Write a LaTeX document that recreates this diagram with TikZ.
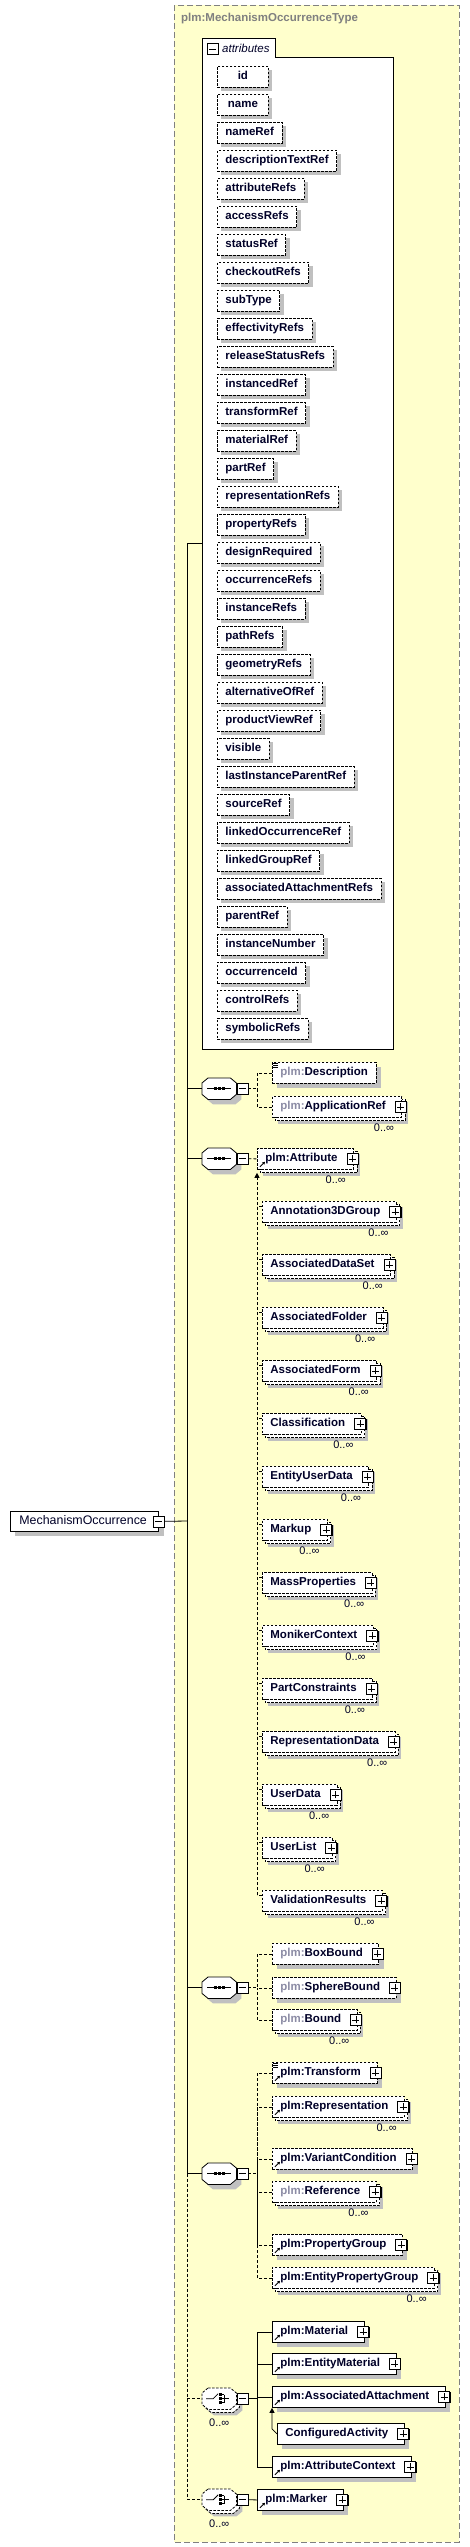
\documentclass[tikz,border=0pt]{standalone}
\usepackage{fontspec}
\setmainfont{Liberation Sans}
\usetikzlibrary{shadows,arrows.meta}

\definecolor{typefill}{HTML}{FFFFCC}
\definecolor{shadowgray}{RGB}{192,192,192}
\definecolor{framegray}{RGB}{128,128,128}
\definecolor{nsgray}{RGB}{140,140,165}
\definecolor{eltext}{RGB}{0,0,40}

\pgfdeclarelayer{bg}
\pgfdeclarelayer{back}
\pgfsetlayers{bg,back,main}

\newcommand{\elfont}{\fontsize{11.5}{13}\selectfont\bfseries}
\newcommand{\nsp}{\textcolor{nsgray}{plm:}}
\newcommand{\pad}{\rule{8pt}{0pt}}

\tikzset{
  line/.style={line width=0.8pt},
  conn/.style={line width=0.8pt,dash pattern=on 3pt off 2pt},
  opt/.style={dash pattern=on 2.5pt off 1.5pt},
  shad/.style={drop shadow={shadow xshift=5pt,shadow yshift=-5pt,fill=shadowgray,opacity=1}},
  attr/.style={draw,opt,fill=white,anchor=north west,font=\elfont,text=eltext,line width=0.8pt,
    minimum width=51pt,minimum height=21pt,inner xsep=8pt,inner ysep=0pt,text height=8.5pt,text depth=2.5pt,
    drop shadow={shadow xshift=4pt,shadow yshift=-4pt,fill=shadowgray,opacity=1}},
  elem/.style={draw,fill=white,anchor=north west,font=\elfont,text=eltext,line width=0.8pt,
    minimum height=21pt,inner xsep=8pt,inner ysep=0pt,text height=8.5pt,text depth=2.5pt},
  comp/.style={anchor=north west,minimum width=34pt,minimum height=21pt,inner sep=0pt},
  pmbox/.style={draw,fill=white,line width=0.8pt,minimum size=11pt,inner sep=0pt,
    drop shadow={shadow xshift=1pt,shadow yshift=-1pt,fill=black,opacity=1}},
  plusbox/.style={pmbox,path picture={\draw[line width=0.8pt]
    ([xshift=-3.5pt]path picture bounding box.center) -- ([xshift=3.5pt]path picture bounding box.center)
    ([yshift=-3.5pt]path picture bounding box.center) -- ([yshift=3.5pt]path picture bounding box.center);}},
  minusbox/.style={pmbox,path picture={\draw[line width=0.8pt]
    ([xshift=-3.5pt]path picture bounding box.center) -- ([xshift=3.5pt]path picture bounding box.center);}},
  mult/.style={font=\fontsize{11}{12}\selectfont,text=eltext,inner sep=0pt}
}

% second box behind repeated elements
\newcommand{\backcopy}[1]{%
  \begin{pgfonlayer}{back}
    \fill[shadowgray,transform canvas={xshift=6pt,yshift=-6pt}] (#1.north west) rectangle (#1.south east);
    \draw[opt,fill=white,line width=0.8pt,transform canvas={xshift=3pt,yshift=-3pt}] (#1.north west) rectangle (#1.south east);
  \end{pgfonlayer}}
\newcommand{\plusat}[1]{\node[plusbox] (#1-x) at ([xshift=-1.5pt]#1.east) {};}
\newcommand{\occurs}[1]{\node[mult,anchor=north east] (#1-l) at ([xshift=-8pt,yshift=-6pt]#1.south east) {0..∞};}
\newcommand{\refmark}[1]{\draw[line width=0.9pt,-{Triangle[length=2.5pt,width=3pt]}] ([shift={(3,-3)}]#1.south west) -- ++(5,-5);}
\newcommand{\simplemark}[1]{\foreach \k in {1,3,5} \draw[line width=0.6pt] ([shift={(1,\k)}]#1.north west) -- ++(5,0);}
\newcommand{\octagon}[2]{\draw[#1] ([xshift=6pt]#2.north west) -- ([xshift=-6pt]#2.north east) -- ([yshift=-5pt]#2.north east)
  -- ([yshift=5pt]#2.south east) -- ([xshift=-6pt]#2.south east) -- ([xshift=6pt]#2.south west)
  -- ([yshift=5pt]#2.south west) -- ([yshift=-5pt]#2.north west) -- cycle;}
\newcommand{\seqicon}[1]{%
  \draw[line width=0.8pt] ([xshift=-12pt]#1.center) -- ([xshift=12pt]#1.center);
  \foreach \k in {-4,0,4} \fill ([xshift=\k pt]#1.center) +(-1.5,-1.5) rectangle +(1.5,1.5);}
\newcommand{\choiceicon}[1]{%
  \draw[line width=0.8pt] ([xshift=-13pt]#1.center) -- ([xshift=-6pt]#1.center) -- ([shift={(-1,-5)}]#1.center);
  \foreach \k in {-4,0,4} \fill ([shift={(1,\k)}]#1.center) +(-1.5,-1.5) rectangle +(1.5,1.5);
  \draw[line width=0.8pt] ([shift={(5,-4)}]#1.center) -- ([shift={(5,4)}]#1.center)
    ([shift={(3,-4)}]#1.center) -- ++(2,0) ([shift={(3,4)}]#1.center) -- ++(2,0)
    ([xshift=3pt]#1.center) -- ([xshift=10pt]#1.center);}

\begin{document}
\begin{tikzpicture}[x=1pt,y=-1pt]
\useasboundingbox (0,0) rectangle (470,2547);
\begin{pgfonlayer}{bg}
  \fill[white] (0,0) rectangle (470,2547);
  \draw[framegray,line width=0.8pt,dash pattern=on 6pt off 3pt,fill=typefill] (174,5) rectangle (459,2542);
\end{pgfonlayer}
\node[anchor=west,font=\elfont,text=framegray,inner sep=0pt] (typename) at (181,19) {plm:MechanismOccurrenceType};

% attributes
\node[comp,minimum width=191pt,minimum height=1011pt] (attrs) at (202,38) {};
\draw[line,fill=white] (attrs.south west) -- (attrs.north west) -- ++(73,0) -- ++(0,19) -| (attrs.south east) -- cycle;
\node[minusbox] (attrs-x) at (212.5,49) {};
\node[anchor=west,font=\fontsize{11.5}{13}\selectfont\itshape,text=eltext,inner sep=0pt] (attrs-l) at (222,48) {attributes};
\foreach \a [count=\i from 0] in {id,name,nameRef,descriptionTextRef,attributeRefs,accessRefs,statusRef,
  checkoutRefs,subType,effectivityRefs,releaseStatusRefs,instancedRef,transformRef,materialRef,partRef,
  representationRefs,propertyRefs,designRequired,occurrenceRefs,instanceRefs,pathRefs,geometryRefs,
  alternativeOfRef,productViewRef,visible,lastInstanceParentRef,sourceRef,linkedOccurrenceRef,
  linkedGroupRef,associatedAttachmentRefs,parentRef,instanceNumber,occurrenceId,controlRefs,symbolicRefs}
  \node[attr] (at\i) at (217,{66+28*\i}) {\a};

% compositors
\foreach \n/\y in {seq1/1078,seq2/1148,seq3/1977,seq4/2163}{
  \node[comp] (\n) at (202,\y) {};
  \octagon{draw=none,fill=shadowgray,transform canvas={xshift=5pt,yshift=-5pt}}{\n}
  \octagon{line,fill=white}{\n}
  \seqicon{\n}
  \node[minusbox] (\n-x) at ([xshift=6pt]\n.east) {};
}
\foreach \n/\y in {ch1/2388,ch2/2489}{
  \node[comp] (\n) at (202,\y) {};
  \octagon{draw=none,fill=shadowgray,transform canvas={xshift=6pt,yshift=-6pt}}{\n}
  \octagon{line,opt,fill=white,transform canvas={xshift=3pt,yshift=-3pt}}{\n}
  \octagon{line,opt,fill=white}{\n}
  \choiceicon{\n}
  \node[minusbox] (\n-x) at ([xshift=6pt]\n.east) {};
  \node[mult] (\n-l) at ([yshift=-13pt]\n.south) {0..∞};
}

% main element and trunk
\node[elem,shad,font=\fontsize{12.4}{14}\selectfont,inner xsep=9pt,minimum height=20pt] (mo) at (10,1511) {MechanismOccurrence\rule{3pt}{0pt}};
\coordinate (trunk) at (187,1521);
\draw[line] (mo.east) -- (trunk);
\node[minusbox] (mo-x) at ([xshift=-0.5pt]mo.east) {};
\draw[line] (attrs.west -| trunk) -- (seq4.west -| trunk);
\draw[conn] (seq4.west -| trunk) -- (ch2.west -| trunk);
\foreach \n in {attrs,seq1,seq2,seq3,seq4} \draw[line] (\n.west -| trunk) -- (\n.west);
\foreach \n in {ch1,ch2} \draw[conn] (\n.west -| trunk) -- (\n.west);

% sequence 1
\node[elem,opt,shad] (desc) at (272,1062) {\nsp Description};
\simplemark{desc}
\node[elem,opt] (appref) at (272,1096) {\nsp ApplicationRef\pad};
\backcopy{appref}\plusat{appref}\occurs{appref}
\draw[conn] (seq1-x.east) -- ++(9,0) coordinate (f1);
\foreach \n in {desc,appref} \draw[conn] (\n.west) -| (f1);

% sequence 2 with substitution group
\node[elem,opt] (attrel) at (257,1148) {plm:Attribute\pad};
\backcopy{attrel}\plusat{attrel}\occurs{attrel}\refmark{attrel}
\draw[conn] (seq2-x.east) -- (attrel.west);
\foreach \s [count=\i from 0] in {Annotation3DGroup,AssociatedDataSet,AssociatedFolder,AssociatedForm,
  Classification,EntityUserData,Markup,MassProperties,MonikerContext,PartConstraints,RepresentationData,
  UserData,UserList,ValidationResults}{
  \node[elem,opt] (sub\i) at (262,{1201+53*\i}) {\s\pad};
  \backcopy{sub\i}\plusat{sub\i}\occurs{sub\i}
  \draw[conn] ([yshift=-5pt]sub\i.north west) -- ++(-5,0);
}
\draw[conn,-{Triangle[length=5pt,width=5pt]}] ([shift={(-5,5)}]sub13.north west) -- ([yshift=-3pt]attrel.south west);

% sequence 3
\node[elem,opt,shad] (boxb) at (272,1943) {\nsp BoxBound\pad};
\plusat{boxb}
\node[elem,opt,shad] (sphb) at (272,1977) {\nsp SphereBound\pad};
\plusat{sphb}
\node[elem,opt] (bound) at (272,2009) {\nsp Bound\pad};
\backcopy{bound}\plusat{bound}\occurs{bound}
\draw[conn] (seq3-x.east) -- ++(9,0) coordinate (f3);
\foreach \n in {boxb,sphb,bound} \draw[conn] (\n.west) -| (f3);

% sequence 4
\node[elem,opt,shad] (transf) at (272,2062) {plm:Transform\pad};
\simplemark{transf}\refmark{transf}\plusat{transf}
\node[elem,opt] (repr) at (272,2096) {plm:Representation\pad};
\backcopy{repr}\plusat{repr}\occurs{repr}\refmark{repr}
\node[elem,opt,shad] (varc) at (272,2148) {plm:VariantCondition\pad};
\refmark{varc}\plusat{varc}
\node[elem,opt] (refe) at (272,2181) {\nsp Reference\pad};
\backcopy{refe}\plusat{refe}\occurs{refe}
\node[elem,opt,shad] (propg) at (272,2234) {plm:PropertyGroup\pad};
\refmark{propg}\plusat{propg}
\node[elem,opt] (epropg) at (272,2267) {plm:EntityPropertyGroup\pad};
\backcopy{epropg}\plusat{epropg}\occurs{epropg}\refmark{epropg}
\draw[conn] (seq4-x.east) -- ++(9,0) coordinate (f4);
\foreach \n in {transf,repr,varc,refe,propg,epropg} \draw[conn] (\n.west) -| (f4);

% choice 1
\node[elem,shad] (mat) at (272,2321) {plm:Material\pad};
\node[elem,shad] (emat) at (272,2353) {plm:EntityMaterial\pad};
\node[elem,shad] (asat) at (272,2386) {plm:AssociatedAttachment\pad};
\node[elem,shad] (actx) at (272,2456) {plm:AttributeContext\pad};
\foreach \n in {mat,emat,asat,actx} {\refmark{\n}\plusat{\n}}
\node[elem,shad] (cfg) at (277,2423) {ConfiguredActivity\pad};
\plusat{cfg}
\draw[line] (ch1-x.east) -- ++(9,0) coordinate (f5);
\foreach \n in {mat,emat,asat,actx} \draw[line] (\n.west) -| (f5);
\draw[line,-{Triangle[length=5pt,width=5pt]}] (cfg.west) -- ++(-5,-5) -- (asat.south west);

% choice 2
\node[elem,shad] (marker) at (257,2489) {plm:Marker\pad};
\refmark{marker}\plusat{marker}
\draw[line] (ch2-x.east) -- (marker.west);
\end{tikzpicture}
\end{document}
